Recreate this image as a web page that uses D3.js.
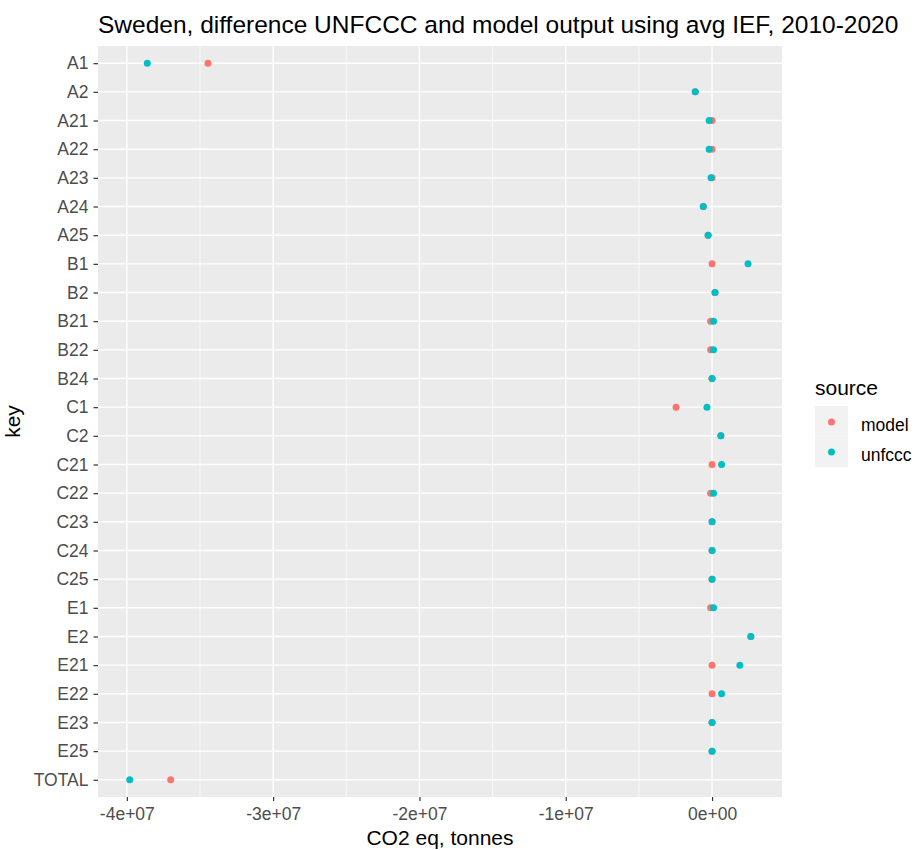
<!DOCTYPE html>
<meta charset="utf-8">
<head>
    <title>Sweden dot plot</title>
    <style>
        body { margin: 0; background: #fff; }
        text { font-family: "Liberation Sans", Arial, sans-serif; }
    </style>
</head>
<script src="https://d3js.org/d3.v7.min.js"></script>
<svg id="chart" width="922" height="850"></svg>
<script>
    // categories, top to bottom
    const keys = ["A1", "A2", "A21", "A22", "A23", "A24", "A25", "B1", "B2", "B21", "B22", "B24",
        "C1", "C2", "C21", "C22", "C23", "C24", "C25", "E1", "E2", "E21", "E22", "E23", "E25", "TOTAL"]

    // values (tonnes CO2 eq)
    const modelValues = [-3.445e7, -1.15e6, 0, 0, 0, -0.6e6, -0.27e6, 0, 0.2e6, -0.1e6, -0.1e6, 0,
        -2.46e6, 0.6e6, 0, -0.1e6, 0, 0, 0, -0.1e6, 2.65e6, 0, 0, 0, 0, -3.70e7]
    const unfcccValues = [-3.86e7, -1.15e6, -0.2e6, -0.2e6, -0.07e6, -0.6e6, -0.27e6, 2.46e6, 0.2e6, 0.1e6, 0.1e6, 0,
        -0.35e6, 0.6e6, 0.65e6, 0.1e6, 0, 0, 0, 0.1e6, 2.65e6, 1.9e6, 0.65e6, 0, 0, -3.98e7]

    const xTicks = [-4e7, -3e7, -2e7, -1e7, 0]
    const xTickLabels = ["-4e+07", "-3e+07", "-2e+07", "-1e+07", "0e+00"]
    const sources = ["model", "unfccc"]
    const colors = ["#F8766D", "#00BFC4"]

    const svg = d3.select("#chart")
    const panel = { left: 98, right: 782, top: 46, bottom: 797 }

    const x = d3.scaleLinear()
        .domain([-4.197e7, 0.478e7])
        .range([panel.left, panel.right])

    const y = d3.scalePoint()
        .domain(keys)
        .range([panel.top, panel.bottom])
        .padding(0.6)

    const color = d3.scaleOrdinal().domain(sources).range(colors)

    // panel background
    svg.append("rect")
        .attr("x", panel.left)
        .attr("y", panel.top)
        .attr("width", panel.right - panel.left)
        .attr("height", panel.bottom - panel.top)
        .attr("fill", "#EBEBEB")

    // minor grid
    const minor = d3.range(-3.5e7, 0.5e7, 1e7)
    svg.append("g").selectAll("line")
        .data(minor)
        .join("line")
        .attr("x1", d => x(d)).attr("x2", d => x(d))
        .attr("y1", panel.top).attr("y2", panel.bottom)
        .attr("stroke", "#fff")
        .attr("stroke-width", 0.7)

    // major grid
    svg.append("g").selectAll("line")
        .data(xTicks)
        .join("line")
        .attr("x1", d => x(d)).attr("x2", d => x(d))
        .attr("y1", panel.top).attr("y2", panel.bottom)
        .attr("stroke", "#fff")
        .attr("stroke-width", 1.4)

    svg.append("g").selectAll("line")
        .data(keys)
        .join("line")
        .attr("x1", panel.left).attr("x2", panel.right)
        .attr("y1", d => y(d)).attr("y2", d => y(d))
        .attr("stroke", "#fff")
        .attr("stroke-width", 1.4)

    // x axis
    const xAxis = svg.append("g")
        .attr("transform", `translate(0,${panel.bottom})`)
        .call(d3.axisBottom(x).tickValues(xTicks).tickSize(4).tickPadding(7)
            .tickFormat((d, i) => xTickLabels[i]))
    xAxis.select(".domain").remove()
    xAxis.selectAll("line").attr("stroke", "#333").attr("stroke-width", 1.2)
    xAxis.selectAll("text").attr("fill", "#4D4D4D").style("font-size", "17.5px")
        .style("font-family", "Liberation Sans, Arial, sans-serif")

    // y axis
    const yAxis = svg.append("g")
        .attr("transform", `translate(${panel.left},0)`)
        .call(d3.axisLeft(y).tickSize(4.5).tickPadding(5))
    yAxis.select(".domain").remove()
    yAxis.selectAll("line").attr("stroke", "#333").attr("stroke-width", 1.2)
    yAxis.selectAll("text").attr("fill", "#4D4D4D").style("font-size", "17.5px")
        .style("font-family", "Liberation Sans, Arial, sans-serif")

    // points: model first, unfccc drawn on top
    const points = []
    keys.forEach((k, i) => points.push({ key: k, source: "model", value: modelValues[i] }))
    keys.forEach((k, i) => points.push({ key: k, source: "unfccc", value: unfcccValues[i] }))

    svg.append("g").selectAll("circle")
        .data(points)
        .join("circle")
        .attr("cx", d => x(d.value))
        .attr("cy", d => y(d.key))
        .attr("r", 3.5)
        .attr("fill", d => color(d.source))

    // titles
    svg.append("text")
        .attr("x", panel.left)
        .attr("y", 33)
        .attr("fill", "#000")
        .style("font-size", "24.5px")
        .text("Sweden, difference UNFCCC and model output using avg IEF, 2010-2020")

    svg.append("text")
        .attr("x", (panel.left + panel.right) / 2)
        .attr("y", 845)
        .attr("text-anchor", "middle")
        .attr("fill", "#000")
        .style("font-size", "21px")
        .text("CO2 eq, tonnes")

    svg.append("text")
        .attr("transform", `translate(20,${(panel.top + panel.bottom) / 2}) rotate(-90)`)
        .attr("text-anchor", "middle")
        .attr("fill", "#000")
        .style("font-size", "21px")
        .text("key")

    // legend
    const legend = svg.append("g").attr("transform", "translate(815,0)")
    legend.append("text")
        .attr("x", 0)
        .attr("y", 395)
        .attr("fill", "#000")
        .style("font-size", "21px")
        .text("source")

    legend.selectAll("rect")
        .data(sources)
        .join("rect")
        .attr("x", 0)
        .attr("y", (d, i) => 406 + i * 30.5)
        .attr("width", 33)
        .attr("height", 30.5)
        .attr("fill", "#F2F2F2")

    legend.selectAll("circle")
        .data(sources)
        .join("circle")
        .attr("cx", 16.5)
        .attr("cy", (d, i) => 422 + i * 30)
        .attr("r", 3.5)
        .attr("fill", d => color(d))

    legend.selectAll(".lab")
        .data(sources)
        .join("text")
        .attr("class", "lab")
        .attr("x", 46)
        .attr("y", (d, i) => 431 + i * 30)
        .attr("fill", "#000")
        .style("font-size", "17.5px")
        .text(d => d)
</script>
